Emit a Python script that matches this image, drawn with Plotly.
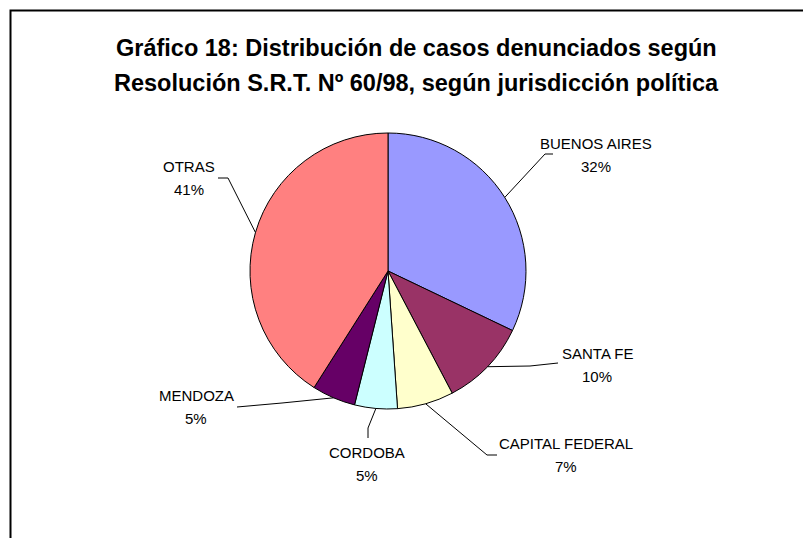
import math
import plotly.graph_objects as go

# -----------------------------
# Data
# -----------------------------
jurisdicciones = ["BUENOS AIRES", "SANTA FE", "CAPITAL FEDERAL", "CORDOBA", "MENDOZA", "OTRAS"]
porcentajes = [32.1, 10.2, 6.6, 5.0, 5.1, 41.0]
colores = ["#9999FF", "#993366", "#FFFFCC", "#CCFFFF", "#660066", "#FF8080"]

titulo_1 = "Gráfico 18: Distribución de casos denunciados según"
titulo_2 = "Resolución S.R.T. Nº 60/98, según jurisdicción política"

# -----------------------------
# Layout constants (pixels)
# -----------------------------
W, H = 803, 538
CX, CY, R = 388, 271, 138

# label centre (name line) + leader elbow and end, per slice
label_pos = {
    "BUENOS AIRES": dict(tx=596, ty=143, elbow=(545, 154), end=(553, 154)),
    "SANTA FE": dict(tx=597, ty=353, elbow=(530, 366), end=(558, 363)),
    "CAPITAL FEDERAL": dict(tx=566, ty=443, elbow=(487, 455), end=(497, 455)),
    "CORDOBA": dict(tx=367, ty=452, elbow=(368, 428), end=(368, 438)),
    "MENDOZA": dict(tx=196, ty=395, elbow=(282, 403), end=(237, 407)),
    "OTRAS": dict(tx=189, ty=166, elbow=(228, 178), end=(218, 178)),
}

FONT = "Liberation Sans, Arial, sans-serif"

fig = go.Figure()

fig.add_trace(
    go.Pie(
        labels=jurisdicciones,
        values=porcentajes,
        marker=dict(colors=colores, line=dict(color="black", width=1)),
        sort=False,
        direction="clockwise",
        rotation=0,
        textinfo="none",
        hoverinfo="label+percent",
        showlegend=False,
        domain=dict(
            x=[(CX - R) / W, (CX + R) / W],
            y=[1 - (CY + R) / H, 1 - (CY - R) / H],
        ),
    )
)

# invisible pixel axis over the whole canvas
fig.add_trace(go.Scatter(x=[0, W], y=[0, H], mode="markers", marker=dict(opacity=0),
                         hoverinfo="skip", showlegend=False))

total = sum(porcentajes)
acum = 0.0
annotations = []
shapes = []
for name, val in zip(jurisdicciones, porcentajes):
    mid = (acum + val / 2) / total * 2 * math.pi
    acum += val
    ex = CX + R * math.sin(mid)
    ey = CY - R * math.cos(mid)
    p = label_pos[name]
    (bx, by), (fx, fy) = p["elbow"], p["end"]
    shapes.append(dict(type="path", xref="x", yref="y",
                       path=f"M {ex},{ey} L {bx},{by} L {fx},{fy}",
                       line=dict(color="black", width=1)))
    annotations.append(dict(x=p["tx"], y=p["ty"], xref="x", yref="y", text=name,
                            showarrow=False, font=dict(size=15, color="black", family=FONT)))
    annotations.append(dict(x=p["tx"], y=p["ty"] + 23, xref="x", yref="y",
                            text=f"{round(val / total * 100)}%",
                            showarrow=False, font=dict(size=15, color="black", family=FONT)))

for txt, ty in [(titulo_1, 48), (titulo_2, 83)]:
    annotations.append(dict(x=416, y=ty, xref="x", yref="y", text=f"<b>{txt}</b>",
                            showarrow=False, font=dict(size=23.5, color="black", family=FONT)))

# chart frame (top and left edges visible)
shapes.append(dict(type="path", xref="x", yref="y",
                   path=f"M 10.5,{H + 5} L 10.5,10.5 L {W + 5},10.5",
                   line=dict(color="black", width=2)))

fig.update_layout(
    width=W,
    height=H,
    margin=dict(l=0, r=0, t=0, b=0),
    paper_bgcolor="white",
    plot_bgcolor="white",
    xaxis=dict(range=[0, W], visible=False, fixedrange=True),
    yaxis=dict(range=[H, 0], visible=False, fixedrange=True),
    annotations=annotations,
    shapes=shapes,
)

fig.write_html("out.html", config={"displayModeBar": False},
               post_script="document.body.style.margin='0px';")
